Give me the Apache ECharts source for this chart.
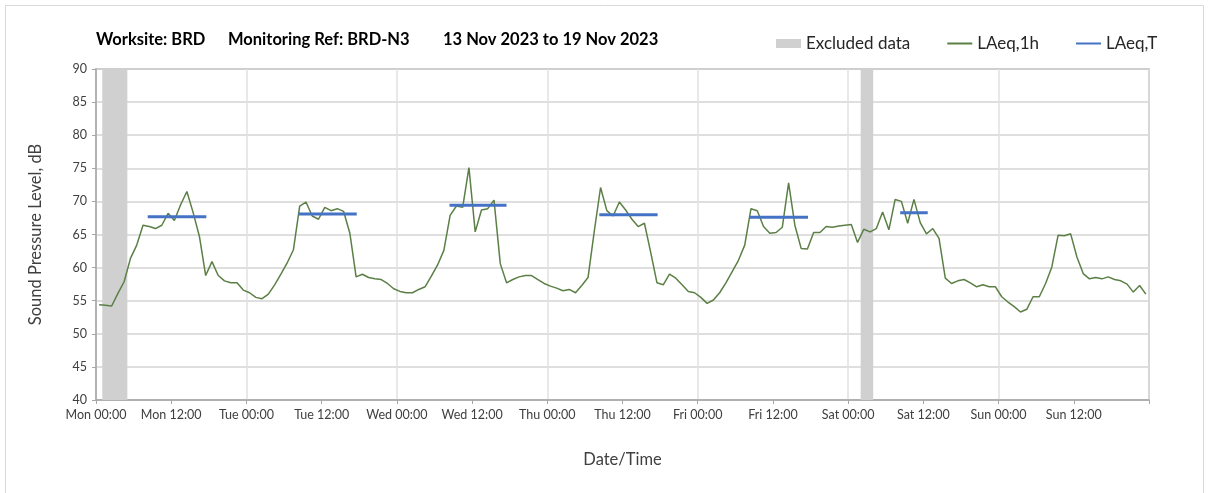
<!DOCTYPE html>
<html>
<head>
<meta charset="utf-8">
<script src="https://cdn.jsdelivr.net/npm/echarts/dist/echarts.min.js"></script>
<style>
html, body { margin: 0; padding: 0; background: #fff; }
#chart { width: 1208px; height: 493px; }
</style>
</head>
<body>
<div id="chart"></div>
<script>
// day names for the x axis labels (axis is in hours from Mon 00:00)
var dayNames = ['Mon', 'Tue', 'Wed', 'Thu', 'Fri', 'Sat', 'Sun'];

// hourly LAeq,1h, one value per hour starting Mon 00:00
var laeq1h = [
    54.4, 54.3, 54.2, 56.1, 57.9, 61.4, 63.4, 66.4, 66.2, 65.9, 66.4, 68.2,
    67.1, 69.5, 71.5, 68.3, 64.7, 58.8, 60.9, 58.8, 58.0, 57.7, 57.7, 56.6,
    56.2, 55.5, 55.3, 56.0, 57.4, 59.0, 60.7, 62.7, 69.3, 69.9, 67.8, 67.3,
    69.1, 68.6, 68.9, 68.5, 65.2, 58.6, 59.0, 58.5, 58.3, 58.2, 57.6, 56.8,
    56.4, 56.2, 56.2, 56.7, 57.1, 58.7, 60.4, 62.6, 67.9, 69.3, 69.1, 75.1,
    65.4, 68.7, 68.9, 70.2, 60.6, 57.7, 58.2, 58.6, 58.8, 58.8, 58.2, 57.6,
    57.2, 56.9, 56.5, 56.7, 56.2, 57.3, 58.5, 65.5, 72.1, 68.6, 67.8, 69.9,
    68.7, 67.3, 66.2, 66.7, 62.3, 57.7, 57.4, 59.0, 58.4, 57.4, 56.4, 56.2,
    55.5, 54.6, 55.1, 56.2, 57.7, 59.4, 61.1, 63.4, 68.9, 68.6, 66.2, 65.2,
    65.3, 66.1, 72.8, 66.4, 62.9, 62.8, 65.3, 65.3, 66.2, 66.1, 66.3, 66.4,
    66.5, 63.8, 65.8, 65.4, 65.9, 68.4, 65.7, 70.3, 70.0, 66.7, 70.3, 66.8,
    65.1, 65.9, 64.4, 58.4, 57.6, 58.0, 58.2, 57.7, 57.1, 57.4, 57.1, 57.1,
    55.6, 54.8, 54.1, 53.3, 53.7, 55.6, 55.6, 57.6, 60.1, 64.9, 64.8, 65.1,
    61.6, 59.1, 58.3, 58.5, 58.3, 58.6, 58.2, 58.0, 57.5, 56.3, 57.3, 56.0
];

// daytime LAeq,T periods (hours from Mon 00:00) and levels
var laeqTStart = [8.25, 32.3, 56.4, 80.3, 104.3, 128.3];
var laeqTEnd   = [17.6, 41.6, 65.5, 89.6, 113.6, 132.7];
var laeqT      = [67.7, 68.1, 69.4, 68.0, 67.6, 68.3];

// excluded data periods (hours from Mon 00:00)
var excludedFrom = [1, 122];
var excludedTo   = [5, 124];

var FONT = 'Lato';
var myChart = echarts.init(document.getElementById('chart'));

var lineData = [];
for (var i = 0; i < laeq1h.length; i++) {
    lineData.push([i + 0.5, laeq1h[i]]);
}

var bands = [];
for (var b = 0; b < excludedFrom.length; b++) {
    bands.push([{ xAxis: excludedFrom[b] }, { xAxis: excludedTo[b] }]);
}

var series = [
    {
        name: 'Excluded data',
        type: 'bar',
        data: [],
        itemStyle: { color: '#d0d0d0' }
    },
    {
        name: 'LAeq,1h',
        type: 'line',
        data: lineData,
        symbol: 'none',
        z: 3,
        lineStyle: { color: '#5b7f45', width: 1.5 },
        itemStyle: { color: '#5b7f45' },
        markArea: {
            silent: true,
            itemStyle: { color: '#d0d0d0' },
            data: bands
        }
    }
];
for (var k = 0; k < laeqT.length; k++) {
    series.push({
        name: 'LAeq,T',
        type: 'line',
        data: [[laeqTStart[k], laeqT[k]], [laeqTEnd[k], laeqT[k]]],
        symbol: 'none',
        z: 4,
        lineStyle: { color: '#4472c4', width: 3 },
        itemStyle: { color: '#4472c4' }
    });
}

var titleStyle = { fontSize: 16.5, fontWeight: 'bold', fontFamily: FONT, color: '#000' };

var option = {
    backgroundColor: '#fff',
    animation: false,
    title: [
        { text: 'Worksite: BRD', left: 96, top: 31, padding: 0, textStyle: titleStyle },
        { text: 'Monitoring Ref: BRD-N3', left: 228, top: 31, padding: 0, textStyle: titleStyle },
        { text: '13 Nov 2023 to 19 Nov 2023', left: 443, top: 31, padding: 0, textStyle: titleStyle }
    ],
    legend: {
        left: 776,
        top: 35,
        padding: 0,
        itemGap: 36,
        itemWidth: 25,
        itemHeight: 9,
        textStyle: { fontSize: 17, fontFamily: FONT, color: '#262626' },
        data: [
            { name: 'Excluded data', icon: 'rect' },
            { name: 'LAeq,1h', itemStyle: { opacity: 0 } },
            { name: 'LAeq,T', itemStyle: { opacity: 0 } }
        ]
    },
    graphic: [{
        type: 'rect',
        shape: { x: 5.5, y: 5.5, width: 1198, height: 500 },
        style: { fill: 'none', stroke: '#d9d9d9', lineWidth: 1 },
        silent: true
    }],
    grid: {
        left: 96,
        top: 69,
        right: 59,
        bottom: 93,
        show: true,
        borderColor: '#a6a6a6',
        borderWidth: 1.5
    },
    xAxis: [
        {
            type: 'value',
            min: 0,
            max: 168,
            interval: 12,
            name: 'Date/Time',
            nameLocation: 'middle',
            nameGap: 51,
            nameTextStyle: { fontSize: 16.5, fontFamily: FONT, color: '#404040' },
            axisLine: { lineStyle: { color: '#a6a6a6', width: 1.5 } },
            axisTick: { show: true, length: 4, lineStyle: { color: '#a6a6a6' } },
            axisLabel: {
                fontSize: 12.5,
                fontFamily: FONT,
                color: '#404040',
                margin: 8,
                formatter: function (v) {
                    if (v >= 168) return '';
                    var d = dayNames[Math.floor(v / 24)];
                    return d + ' ' + (v % 24 === 0 ? '00:00' : '12:00');
                }
            },
            splitLine: { show: false }
        },
        {
            type: 'value',
            min: 0,
            max: 168,
            interval: 24,
            position: 'bottom',
            axisLine: { show: false },
            axisTick: { show: false },
            axisLabel: { show: false },
            splitLine: { show: true, lineStyle: { color: '#e0e0e0', width: 1.5 } }
        }
    ],
    yAxis: {
        type: 'value',
        min: 40,
        max: 90,
        interval: 5,
        name: 'Sound Pressure Level, dB',
        nameLocation: 'middle',
        nameGap: 52,
        nameTextStyle: { fontSize: 16.5, fontFamily: FONT, color: '#404040' },
        axisLine: { show: true, lineStyle: { color: '#a6a6a6', width: 1.5 } },
        axisTick: { show: true, length: 4, lineStyle: { color: '#a6a6a6' } },
        axisLabel: { fontSize: 12.5, fontFamily: FONT, color: '#404040', margin: 9 },
        splitLine: { show: true, lineStyle: { color: '#d4d4d4', width: 1.5 } }
    },
    series: series
};

myChart.setOption(option);
</script>
</body>
</html>
